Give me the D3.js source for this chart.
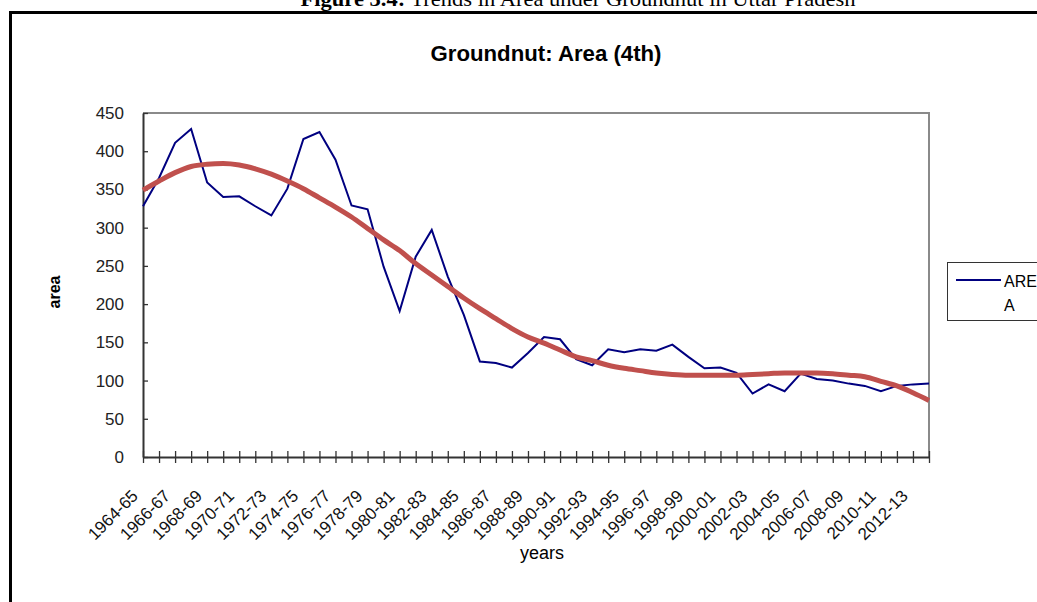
<!DOCTYPE html>
<html>
<head>
<meta charset="utf-8">
<script src="https://cdn.jsdelivr.net/npm/d3@7"></script>
<style>
  body { margin: 0; background: #fff; }
  svg { display: block; }
  text { font-family: "Liberation Sans", Arial, sans-serif; }
</style>
</head>
<body>
<div class="chart"></div>
<script>
// categories: 1964-65 .. 2013-14
var years = d3.range(1964, 2014).map(function(y){
	return y + "-" + String((y + 1) % 100).padStart(2, "0");
});

var area = [328, 365, 411, 429, 359, 340, 341, 328, 316, 351,
	416, 425, 389, 329, 324, 249, 191, 262, 297, 236,
	186, 125, 123, 117, 136, 157, 154, 128, 120, 141,
	137, 141, 139, 147, 131, 116, 117, 110, 83, 95,
	86, 109, 102, 100, 96, 93, 86, 93, 95, 96];

var trend = [349, 361, 372, 380, 383, 384, 382, 377, 370, 361,
	351, 339, 327, 314, 299, 284, 270, 253, 238, 223,
	208, 194, 181, 168, 157, 149, 140, 131, 126, 120,
	116, 113, 110, 108, 107, 107, 107, 107, 108, 109,
	110, 110, 110, 109, 107, 105, 99, 93, 84, 74];

var yTicks = [0, 50, 100, 150, 200, 250, 300, 350, 400, 450];
var xLabels = years.filter(function(d, i){ return i % 2 == 0; });

var width = 1037, height = 602;
var margin = {top: 113, right: 108, bottom: 145, left: 143};

var svg = d3.select(".chart").append("svg")
	.attr("width", width)
	.attr("height", height);

svg.append("rect").attr("width", width).attr("height", height).attr("fill", "#fff");

// figure caption (cut at top of picture, as in the source)
var cap = svg.append("text")
	.attr("x", 578).attr("y", 6)
	.attr("text-anchor", "middle")
	.attr("textLength", 555).attr("lengthAdjust", "spacingAndGlyphs")
	.style("font-family", "'Liberation Serif', 'Times New Roman', serif")
	.style("font-size", "21px");
cap.append("tspan").style("font-weight", "bold").text("Figure 3.4:");
cap.append("tspan").text(" Trends in Area under Groundnut in Uttar Pradesh");

// outer frame
svg.append("path")
	.attr("d", "M10.5," + height + "V12.5H" + width)
	.attr("fill", "none")
	.attr("stroke", "#000")
	.attr("stroke-width", 3);

var x = d3.scalePoint().domain(years).range([margin.left, width - margin.right]);
var y = d3.scaleLinear().domain([0, 450]).range([height - margin.bottom, margin.top]);

// plot frame (top/right)
svg.append("path")
	.attr("d", "M" + x.range()[0] + "," + y(450) + "H" + x.range()[1] + "V" + y(0))
	.attr("fill", "none")
	.attr("stroke", "#8a8a8a")
	.attr("stroke-width", 2);

var xAxis = d3.axisBottom(x).tickSizeInner(6).tickSizeOuter(0).tickFormat("");
var gx = svg.append("g")
	.attr("transform", "translate(0," + y(0) + ")")
	.call(xAxis);
gx.selectAll(".tick line").attr("y1", -6).attr("stroke", "#333").attr("stroke-width", 1.3);
gx.select(".domain").attr("stroke", "#333").attr("stroke-width", 2);

gx.selectAll(".xlab")
	.data(xLabels)
	.enter().append("text")
	.attr("class", "xlab")
	.attr("text-anchor", "end")
	.attr("transform", function(d){ return "translate(" + (x(d) - 4) + ",40) rotate(-45)"; })
	.style("font-size", "17px")
	.attr("fill", "#111")
	.text(function(d){ return d; });

var yAxis = d3.axisLeft(y).tickValues(yTicks).tickSizeInner(5).tickSizeOuter(0).tickPadding(14);
var gy = svg.append("g")
	.attr("transform", "translate(" + margin.left + ",0)")
	.call(yAxis);
gy.selectAll(".tick line").attr("x2", 5).attr("stroke", "#333").attr("stroke-width", 1.3);
gy.select(".domain").attr("stroke", "#333").attr("stroke-width", 2);
gy.selectAll(".tick text").style("font-size", "17px").attr("fill", "#222");

var line = d3.line()
	.x(function(d, i){ return x(years[i]); })
	.y(function(d){ return y(d); });

svg.append("path")
	.datum(area)
	.attr("d", line)
	.attr("fill", "none")
	.attr("stroke", "#000080")
	.attr("stroke-width", 2);

svg.append("path")
	.datum(trend)
	.attr("d", line.curve(d3.curveMonotoneX))
	.attr("fill", "none")
	.attr("stroke", "#c0504d")
	.attr("stroke-width", 5)
	.attr("stroke-linejoin", "round");

// titles
svg.append("text")
	.attr("x", 546).attr("y", 61)
	.attr("text-anchor", "middle")
	.attr("textLength", 231).attr("lengthAdjust", "spacingAndGlyphs")
	.style("font-size", "22px").style("font-weight", "bold")
	.text("Groundnut: Area (4th)");

svg.append("text")
	.attr("x", 542).attr("y", 559)
	.attr("text-anchor", "middle")
	.style("font-size", "18px")
	.text("years");

svg.append("text")
	.attr("transform", "translate(60,292) rotate(-90)")
	.attr("text-anchor", "middle")
	.style("font-size", "16px").style("font-weight", "bold")
	.text("area");

// legend
var lg = svg.append("g");
lg.append("rect")
	.attr("x", 947.5).attr("y", 262.5)
	.attr("width", 100).attr("height", 58)
	.attr("fill", "#fff").attr("stroke", "#333");
lg.append("line")
	.attr("x1", 956).attr("x2", 1001).attr("y1", 280).attr("y2", 280)
	.attr("stroke", "#000080").attr("stroke-width", 2);
lg.append("text").attr("x", 1004).attr("y", 287).style("font-size", "16px").text("ARE");
lg.append("text").attr("x", 1004).attr("y", 311).style("font-size", "16px").text("A");
</script>
</body>
</html>
